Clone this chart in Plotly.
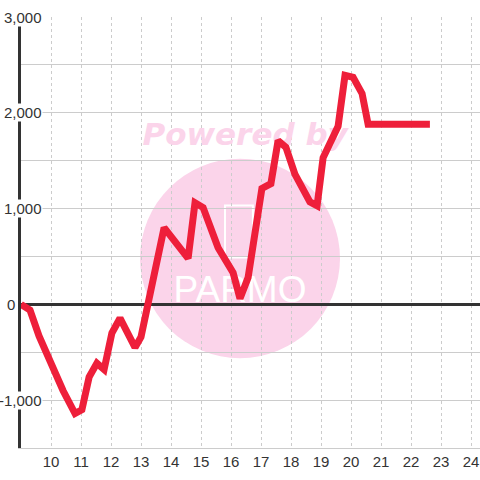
import plotly.graph_objects as go

# hour of day vs cumulative value
hours = [9.0, 9.3, 9.6, 10.0, 10.4, 10.8, 11.03, 11.27, 11.53, 11.77, 12.03, 12.3,
         12.8, 13.0, 13.77, 14.57, 14.8, 15.07, 15.57, 16.07, 16.3, 16.57, 17.03,
         17.33, 17.57, 17.83, 18.13, 18.63, 18.87, 19.07, 19.57, 19.8, 20.07,
         20.37, 20.57, 22.63]
values = [0, -60, -330, -620, -900, -1140, -1100, -760, -615, -680, -300, -145,
          -450, -340, 800, 480, 1060, 1010, 590, 330, 60, 280, 1210,
          1260, 1710, 1640, 1360, 1070, 1030, 1530, 1860, 2390, 2370,
          2200, 1880, 1880]

x_ticks = list(range(10, 25))
y_label_vals = [3000, 2000, 1000, 0, -1000]
y_label_text = ["3,000", "2,000", "1,000", "0", "-1,000"]

font_family = "Liberation Sans, Arial, sans-serif"
axis_color = "#333333"
grid_color = "#cccccc"
pink = "#fbd4ea"

fig = go.Figure()

# watermark texts (drawn first so the line sits on top)
fig.add_trace(go.Scatter(
    x=[16.47], y=[1740], mode="text", text=["Powered by"],
    textfont=dict(family="DejaVu Sans", size=31, color=pink, weight="bold", style="italic"),
    hoverinfo="skip", showlegend=False
))
fig.add_trace(go.Scatter(
    x=[16.3], y=[125], mode="text", text=["PARMO"],
    textfont=dict(family=font_family, size=37, color="#ffffff"),
    hoverinfo="skip", showlegend=False
))

fig.add_trace(go.Scatter(
    x=hours, y=values, mode="lines",
    line=dict(color="#ee1f3a", width=7),
    hoverinfo="x+y", showlegend=False
))

# pink disc and phone outline of the watermark
fig.add_shape(type="circle", xref="x", yref="y",
              x0=12.967, x1=19.633, y0=-562, y1=1521,
              fillcolor=pink, line=dict(width=0), layer="below")
fig.add_shape(type="rect", xref="x", yref="y",
              x0=15.8, x1=16.73, y0=490, y1=1031,
              fillcolor="rgba(0,0,0,0)", line=dict(color="#ffffff", width=2), layer="below")

# y labels sit inside the plot with a white backing
for v, t in zip(y_label_vals, y_label_text):
    fig.add_annotation(
        x=0, xref="paper", y=v, yref="y", text=t, showarrow=False,
        xanchor="right", yanchor="middle", xshift=(-5 if v == 0 else 22),
        bgcolor="#ffffff", borderpad=0,
        font=dict(family=font_family, size=15, color=axis_color)
    )

fig.update_layout(
    width=480, height=480,
    margin=dict(l=21, r=0, t=17, b=32),
    paper_bgcolor="#ffffff",
    plot_bgcolor="#ffffff",
    font=dict(family=font_family, size=15, color=axis_color),
    xaxis=dict(
        range=[9, 24.3],
        tickvals=x_ticks,
        ticktext=[str(v) for v in x_ticks],
        showgrid=True, gridcolor=grid_color, gridwidth=1, griddash="3px,3px",
        zeroline=False,
        showline=True, linecolor=grid_color, linewidth=1,
        ticks="", tickfont=dict(size=15, color=axis_color),
        fixedrange=True
    ),
    yaxis=dict(
        range=[-1500, 3000],
        tick0=0, dtick=500,
        showgrid=True, gridcolor=grid_color, gridwidth=1,
        showticklabels=False, ticks="",
        zeroline=True, zerolinecolor=axis_color, zerolinewidth=3,
        showline=True, linecolor=axis_color, linewidth=3,
        fixedrange=True
    ),
)

# drop the default 8px page margin so the 480px figure fills the window
fig.write_html(
    "out.html",
    config={"displayModeBar": False},
    post_script="document.body.style.margin='0';document.body.style.overflow='hidden';",
)
